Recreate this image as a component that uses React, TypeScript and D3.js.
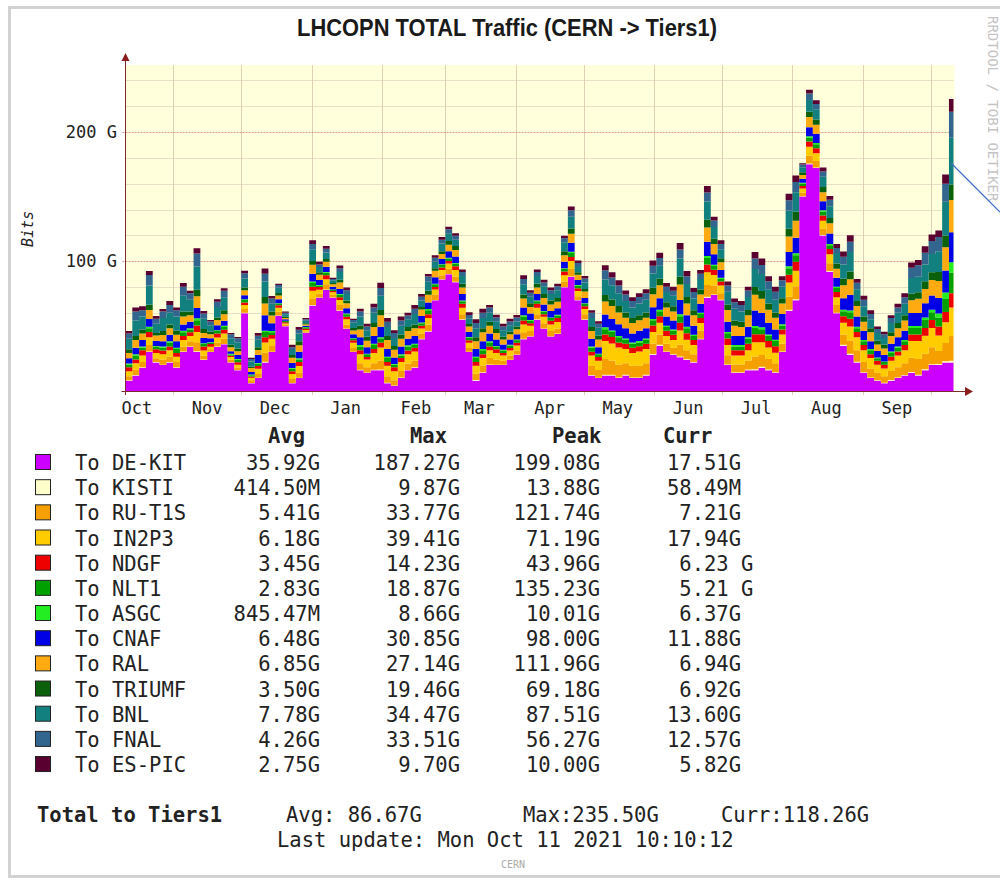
import React, { useEffect, useRef } from 'react';
import * as d3 from 'd3';

// series, bottom to top (rrdtool AREA + STACK order)
const seriesNames = ['DE-KIT', 'KISTI', 'RU-T1S', 'IN2P3', 'NDGF', 'NLT1', 'ASGC', 'CNAF', 'RAL', 'TRIUMF', 'BNL', 'FNAL', 'ES-PIC'];
const seriesColors = ['#cc00ff', '#ffffcc', '#f5a000', '#ffcc00', '#ee0000', '#00a000', '#22ee22', '#0000e6', '#ffaa11', '#0b600b', '#138080', '#33668f', '#5a0030'];

// values in Gbit/s, one every 3 days from 11 Oct 2020
const deKit = [
  8, 12, 18, 30, 22, 20, 22, 18, 30, 34,
  30, 24, 30, 34, 36, 22, 16, 60, 6, 10,
  22, 30, 58, 50, 6, 10, 45, 66, 72, 78,
  72, 62, 48, 30, 16, 14, 16, 16, 6, 4,
  10, 16, 18, 40, 46, 70, 86, 90, 84, 55,
  30, 8, 14, 20, 20, 20, 24, 28, 40, 42,
  55, 48, 42, 44, 80, 88, 70, 55, 12, 10,
  12, 12, 10, 12, 10, 10, 12, 28, 35, 30,
  28, 26, 24, 22, 40, 72, 74, 70, 20, 14,
  14, 16, 16, 18, 16, 14, 30, 62, 70, 150,
  175, 172, 120, 92, 60, 35, 28, 22, 14, 10,
  8, 6, 8, 10, 12, 14, 12, 16, 20, 20,
  22, 22,
];
const kisti = [
  .3, .4, .4, .5, .3, .3, .4, .4, .4, .4,
  .6, .3, .2, .3, .3, .2, .2, .3, .2, .2,
  .5, .3, .2, .1, .2, .3, .1, .4, .2, .3,
  .1, .3, .3, .2, .4, .3, .4, .5, .4, .3,
  .4, .3, .4, .3, .3, .3, .3, .3, .3, .3,
  .2, .4, .4, .4, .3, .3, .2, .2, .4, .3,
  .3, .3, .3, .3, .3, .4, .2, .3, .3, .3,
  .6, .6, .5, .5, .4, .5, .5, .6, .6, .4,
  .4, .7, .5, .4, .4, .7, .5, .4, .5, .4,
  .4, .5, .7, .7, .6, .5, .5, .7, .8, .2,
  .5, .4, .4, .5, .4, .6, .7, .5, .4, .4,
  .3, .3, .4, .4, .4, .6, .6, .7, .7, .8,
  1, 1.4,
];
const ruT1s = [
  3, 4, 4, 5, 3, 4, 4, 4, 4, 4,
  7, 3, 2, 3, 4, 2, 2, 3, 2, 3,
  7, 5, 3, 1, 3, 4, 1, 5, 3, 4,
  2, 4, 3, 3, 5, 4, 5, 7, 5, 4,
  5, 5, 5, 4, 5, 4, 3, 4, 4, 4,
  3, 5, 5, 5, 4, 3, 3, 3, 5, 4,
  4, 4, 4, 4, 4, 6, 3, 4, 7, 6,
  12, 11, 10, 9, 9, 9, 9, 8, 8, 6,
  5, 9, 7, 6, 6, 9, 7, 5, 7, 6,
  6, 7, 10, 9, 8, 7, 6, 10, 10, 3,
  6, 5, 5, 6, 6, 8, 10, 9, 8, 7,
  6, 5, 7, 8, 9, 11, 12, 12, 13, 10,
  14, 19,
];
const in2p3 = [
  4, 5, 5, 6, 4, 4, 5, 4, 5, 4,
  8, 4, 2, 4, 4, 2, 2, 3, 2, 4,
  8, 5, 3, 1, 4, 5, 1, 6, 3, 4,
  2, 4, 4, 4, 7, 6, 8, 10, 8, 7,
  7, 7, 7, 4, 5, 4, 4, 4, 5, 5,
  4, 6, 6, 6, 5, 4, 4, 4, 6, 4,
  5, 5, 5, 5, 5, 6, 4, 4, 8, 7,
  14, 13, 13, 11, 10, 11, 11, 9, 9, 6,
  6, 11, 8, 7, 6, 10, 8, 6, 8, 7,
  7, 8, 11, 10, 9, 8, 7, 11, 12, 3,
  7, 6, 6, 7, 6, 9, 11, 10, 9, 8,
  6, 6, 8, 9, 10, 13, 14, 14, 15, 12,
  16, 22,
];
const ndgf = [
  3, 3, 4, 4, 3, 3, 3, 3, 3, 3,
  5, 3, 2, 3, 3, 1, 2, 2, 1, 2,
  4, 3, 2, 1, 2, 3, 1, 3, 2, 3,
  1, 2, 2, 2, 3, 2, 3, 4, 3, 3,
  3, 3, 3, 2, 3, 2, 2, 2, 3, 3,
  2, 3, 3, 3, 3, 2, 2, 2, 3, 2,
  3, 2, 3, 3, 3, 3, 2, 2, 3, 3,
  5, 5, 4, 4, 4, 4, 4, 5, 5, 4,
  4, 6, 5, 4, 4, 6, 4, 3, 5, 4,
  4, 5, 6, 6, 5, 5, 4, 6, 7, 2,
  4, 4, 4, 4, 4, 5, 6, 4, 4, 3,
  3, 3, 3, 3, 4, 5, 5, 6, 6, 7,
  8, 11,
];
const nlt1 = [
  2, 3, 2, 3, 2, 2, 3, 3, 3, 2,
  4, 2, 1, 2, 2, 1, 2, 2, 1, 2,
  4, 2, 1, 1, 2, 2, 1, 3, 1, 2,
  1, 2, 2, 1, 3, 2, 3, 3, 3, 2,
  2, 3, 2, 2, 3, 2, 2, 2, 2, 2,
  2, 3, 3, 3, 2, 2, 2, 2, 3, 2,
  2, 2, 2, 2, 2, 3, 2, 2, 3, 2,
  4, 4, 4, 3, 3, 3, 3, 4, 4, 3,
  3, 5, 4, 3, 3, 5, 3, 2, 4, 3,
  3, 4, 5, 4, 4, 4, 3, 5, 5, 2,
  3, 3, 3, 3, 3, 4, 5, 3, 3, 3,
  2, 2, 3, 3, 3, 5, 5, 6, 6, 7,
  10, 16,
];
const asgc = [
  1, 1, 1, 1, .5, 1, 1, 1, 1, 1,
  1.5, .5, .5, .5, 1, .5, .5, .5, .5, .5,
  1, 1, .5, .2, .5, 1, .2, 1, .5, .5,
  .3, .5, .5, .5, 1, .5, 1, 1, 1, .5,
  1, 1, 1, .5, 1, .5, .5, .5, .5, .5,
  .5, 1, 1, 1, .5, .5, .5, .5, 1, .5,
  .5, .5, .5, .5, .5, 1, .5, .5, 1, .5,
  1.5, 1, 1, 1, 1, 1, 1, 1, 1, 1,
  1, 1.5, 1, 1, 1, 1.5, 1, 1, 1, 1,
  1, 1, 1.5, 1.5, 1, 1, 1, 1.5, 1.5, .5,
  1, 1, 1, 1, 1, 1, 1.5, 1, 1, 1,
  .5, .5, 1, 1, 1, 1.5, 1.5, 2, 2, 3,
  5, 8,
];
const cnaf = [
  4, 5, 5, 6, 4, 4, 5, 5, 5, 5,
  8, 4, 3, 4, 4, 2, 3, 3, 2, 6,
  12, 6, 3, 1, 4, 5, 1, 6, 4, 4,
  2, 4, 4, 3, 6, 5, 6, 8, 6, 5,
  6, 5, 6, 5, 5, 5, 4, 5, 5, 5,
  4, 6, 6, 6, 5, 4, 4, 4, 6, 5,
  5, 5, 5, 5, 5, 7, 4, 4, 6, 5,
  10, 9, 9, 8, 7, 8, 8, 9, 9, 7,
  7, 11, 9, 7, 7, 11, 8, 6, 8, 7,
  7, 8, 12, 11, 9, 8, 8, 11, 12, 3,
  7, 7, 7, 8, 7, 9, 12, 8, 7, 6,
  5, 5, 6, 7, 7, 10, 10, 11, 11, 12,
  17, 23,
];
const ral = [
  4, 6, 5, 7, 4, 5, 5, 5, 6, 5,
  9, 4, 3, 4, 5, 3, 3, 4, 3, 4,
  9, 6, 3, 1, 4, 5, 1, 7, 4, 4,
  2, 5, 4, 3, 6, 5, 7, 9, 7, 6,
  6, 6, 6, 5, 6, 5, 4, 5, 5, 5,
  4, 6, 7, 6, 5, 4, 4, 4, 7, 5,
  5, 5, 5, 5, 5, 7, 4, 5, 6, 6,
  10, 10, 9, 8, 8, 8, 8, 10, 10, 7,
  7, 12, 9, 8, 7, 11, 8, 6, 9, 8,
  7, 9, 12, 11, 10, 9, 8, 12, 13, 3,
  8, 7, 7, 8, 7, 10, 12, 8, 7, 7,
  5, 5, 6, 7, 8, 10, 11, 11, 12, 13,
  18, 25,
];
const triumf = [
  3, 3, 3, 4, 2, 3, 3, 3, 4, 3,
  5, 3, 2, 2, 3, 2, 2, 2, 1, 2,
  5, 3, 2, 1, 2, 3, 1, 3, 2, 2,
  1, 2, 2, 2, 3, 3, 3, 4, 3, 3,
  3, 3, 3, 2, 3, 2, 2, 3, 3, 3,
  2, 3, 3, 3, 3, 2, 2, 2, 3, 3,
  3, 3, 3, 3, 3, 4, 2, 2, 3, 3,
  5, 5, 5, 4, 4, 4, 4, 5, 5, 4,
  4, 6, 5, 4, 4, 6, 4, 3, 4, 4,
  4, 4, 6, 6, 5, 4, 4, 6, 7, 2,
  4, 4, 4, 4, 4, 5, 6, 4, 4, 3,
  3, 3, 3, 4, 4, 5, 5, 6, 6, 7,
  9, 12,
];
const bnl = [
  8, 12, 10, 15, 7, 10, 9, 11, 12, 9,
  18, 8, 5, 8, 10, 5, 5, 7, 4, 6,
  12, 6, 4, 2, 4, 6, 2, 9, 4, 5,
  2, 6, 5, 4, 7, 5, 8, 11, 7, 6,
  7, 6, 8, 5, 7, 5, 6, 6, 5, 6,
  4, 7, 8, 7, 6, 5, 5, 4, 8, 5,
  6, 6, 5, 6, 7, 9, 4, 5, 7, 6,
  12, 11, 10, 9, 8, 9, 10, 11, 10, 8,
  8, 14, 10, 9, 8, 14, 9, 7, 10, 9,
  8, 10, 14, 13, 11, 10, 9, 14, 15, 4,
  9, 8, 8, 9, 8, 11, 15, 9, 8, 7,
  6, 5, 7, 8, 9, 12, 12, 13, 14, 16,
  26, 36,
];
const fnal = [
  4, 7, 5, 8, 4, 5, 6, 5, 7, 5,
  10, 4, 3, 4, 5, 3, 3, 4, 2, 3,
  6, 4, 2, 1, 2, 3, 1, 4, 2, 3,
  1, 3, 3, 2, 4, 3, 4, 6, 4, 4,
  4, 3, 4, 3, 4, 3, 3, 3, 3, 3,
  3, 4, 4, 4, 3, 3, 3, 3, 4, 3,
  3, 3, 3, 3, 3, 5, 3, 3, 4, 3,
  7, 6, 6, 5, 5, 5, 5, 6, 6, 4,
  4, 7, 6, 5, 4, 7, 5, 4, 5, 5,
  5, 5, 8, 7, 6, 6, 5, 8, 8, 2,
  5, 4, 4, 5, 4, 6, 8, 5, 5, 4,
  3, 3, 4, 4, 5, 8, 9, 9, 10, 11,
  14, 20,
];
const esPic = [
  2, 3, 3, 3, 2, 2, 3, 2, 3, 2,
  4, 2, 1, 2, 2, 1, 1, 2, 1, 2,
  4, 2, 1, 1, 2, 2, 1, 3, 2, 2,
  1, 2, 2, 1, 2, 2, 3, 4, 3, 2,
  3, 2, 3, 2, 2, 2, 2, 2, 2, 2,
  2, 3, 3, 2, 2, 2, 2, 2, 3, 2,
  2, 2, 2, 2, 2, 3, 2, 2, 2, 2,
  4, 4, 4, 3, 3, 3, 3, 4, 4, 3,
  3, 5, 4, 3, 3, 5, 3, 3, 3, 3,
  3, 3, 5, 5, 4, 4, 3, 5, 5, 1,
  3, 3, 3, 3, 3, 4, 5, 3, 3, 3,
  2, 2, 2, 3, 3, 4, 4, 5, 5, 5,
  7, 10,
];
const seriesValues = [deKit, kisti, ruT1s, in2p3, ndgf, nlt1, asgc, cnaf, ral, triumf, bnl, fnal, esPic];

// legend table
const avgVals = ['35.92G', '414.50M', '5.41G', '6.18G', '3.45G', '2.83G', '845.47M', '6.48G', '6.85G', '3.50G', '7.78G', '4.26G', '2.75G'];
const maxVals = ['187.27G', '9.87G', '33.77G', '39.41G', '14.23G', '18.87G', '8.66G', '30.85G', '27.14G', '19.46G', '34.47G', '33.51G', '9.70G'];
const peakVals = ['199.08G', '13.88G', '121.74G', '71.19G', '43.96G', '135.23G', '10.01G', '98.00G', '111.96G', '69.18G', '87.51G', '56.27G', '10.00G'];
const currVals = ['17.51G', '58.49M', ' 7.21G', '17.94G', ' 6.23 G', ' 5.21 G', ' 6.37G', '11.88G', ' 6.94G', ' 6.92G', '13.60G', '12.57G', ' 5.82G'];

const monthLabels = ['Oct', 'Nov', 'Dec', 'Jan', 'Feb', 'Mar', 'Apr', 'May', 'Jun', 'Jul', 'Aug', 'Sep'];
const yTickValues = [100, 200];

const MONO = '"DejaVu Sans Mono", monospace';

const App = () => {
  const svgRef = useRef<SVGSVGElement>(null);

  useEffect(() => {
    const svg = d3.select(svgRef.current);
    svg.selectAll('*').remove();

    const start = new Date(2020, 9, 11);
    const end = new Date(2021, 9, 11);
    const dates = deKit.map((_, i) => d3.timeDay.offset(start, 3 * i));

    const x = d3.scaleTime().domain([start, end]).range([125.5, 953.5]);
    const y = d3.scaleLinear().domain([0, 250]).range([391, 67]);

    // frame
    svg.append('rect').attr('x', 9.5).attr('y', 7.5).attr('width', 995).attr('height', 869)
      .attr('fill', '#fff').attr('stroke', '#d2d2d2').attr('stroke-width', 3);

    // title
    svg.append('text')
      .attr('x', 297).attr('y', 36)
      .attr('textLength', 420).attr('lengthAdjust', 'spacingAndGlyphs')
      .style('font-family', '"Liberation Sans", Arial, sans-serif')
      .style('font-weight', 'bold').style('font-size', '24px').style('fill', '#1a1a1a')
      .text('LHCOPN TOTAL Traffic (CERN -> Tiers1)');

    // plot background
    svg.append('rect')
      .attr('x', x(start)).attr('y', y(250) - 2)
      .attr('width', x(end) - x(start) + 1).attr('height', y(0) - y(250) + 2)
      .attr('fill', '#ffffdc');

    // grid
    const grid = svg.append('g');
    d3.range(20, 260, 20).filter(v => !yTickValues.includes(v)).forEach(v => {
      grid.append('line').attr('x1', x(start)).attr('x2', x(end))
        .attr('y1', Math.round(y(v)) + 0.5).attr('y2', Math.round(y(v)) + 0.5)
        .attr('stroke', '#e8dfc6');
    });
    const monthStarts = d3.timeMonth.range(new Date(2020, 10, 1), new Date(2021, 9, 2));
    monthStarts.forEach(m => {
      const mx = Math.round(x(m)) + 0.5;
      grid.append('line').attr('x1', mx).attr('x2', mx).attr('y1', y(250) - 2).attr('y2', y(0) + 4)
        .attr('stroke', '#ddd0b6');
    });
    yTickValues.forEach(v => {
      grid.append('line').attr('x1', x(start) - 3).attr('x2', x(end))
        .attr('y1', Math.round(y(v)) + 0.5).attr('y2', Math.round(y(v)) + 0.5)
        .attr('stroke', '#d89a90').attr('stroke-dasharray', '2,1');
    });

    // stacked areas
    const rows = dates.map((d, i) => {
      const row: any = { date: d };
      seriesNames.forEach((n, k) => { row[n] = seriesValues[k][i]; });
      return row;
    });
    const layers = d3.stack().keys(seriesNames)(rows);
    const area = d3.area<any>()
      .curve(d3.curveStepAfter)
      .x(d => x(d.data.date))
      .y0(d => y(d[0]))
      .y1(d => y(d[1]));

    svg.append('g').selectAll('path')
      .data(layers)
      .enter()
      .append('path')
      .attr('fill', (d, k) => seriesColors[k])
      .attr('d', layer => {
        const last = layer[layer.length - 1];
        const closing: any = [last[0], last[1]];
        closing.data = { date: end };
        return area([...layer, closing]);
      });

    // axes
    const axisColor = '#7d2b2b';
    svg.append('line').attr('x1', x(start)).attr('x2', x(start)).attr('y1', y(0) + 4).attr('y2', 60)
      .attr('stroke', axisColor);
    svg.append('path').attr('d', `M${x(start) - 4},61 L${x(start) + 4},61 L${x(start)},53 Z`).attr('fill', '#8b1c1c');
    svg.append('line').attr('x1', x(start) - 4).attr('x2', 966).attr('y1', y(0) + 0.5).attr('y2', y(0) + 0.5)
      .attr('stroke', axisColor);
    svg.append('path').attr('d', `M965,${y(0) - 4} L965,${y(0) + 5} L973,${y(0) + 0.5} Z`).attr('fill', '#8b1c1c');

    // tick labels
    const monthMids = d3.timeMonth.range(new Date(2020, 9, 1), new Date(2021, 9, 1)).map(m => d3.timeDay.offset(m, 15));
    svg.append('g').selectAll('text')
      .data(monthLabels)
      .enter()
      .append('text')
      .attr('x', (d, i) => x(monthMids[i]))
      .attr('y', 414)
      .attr('text-anchor', 'middle')
      .style('font-family', MONO).style('font-size', '17px').style('fill', '#222')
      .text(d => d);

    svg.append('g').selectAll('text')
      .data(yTickValues)
      .enter()
      .append('text')
      .attr('x', 117)
      .attr('y', d => y(d) + 6)
      .attr('text-anchor', 'end')
      .style('font-family', MONO).style('font-size', '17px').style('fill', '#222')
      .text(d => `${d} G`);

    svg.append('text')
      .attr('transform', `translate(33,${(y(0) + y(250)) / 2}) rotate(-90)`)
      .attr('text-anchor', 'middle')
      .style('font-family', MONO).style('font-size', '15px').style('font-style', 'oblique').style('fill', '#222')
      .text('Bits');

    // rrdtool watermark
    svg.append('text')
      .attr('transform', 'translate(988,16) rotate(90)')
      .style('font-family', MONO).style('font-size', '14px').style('fill', '#c4c4c4')
      .text('RRDTOOL / TOBI OETIKER');

    // annotation line
    svg.append('line').attr('x1', 951).attr('y1', 163).attr('x2', 1000).attr('y2', 212)
      .attr('stroke', '#3e6fc0').attr('stroke-width', 1.2);

    // legend table
    const fs = '20.5px';
    const header = svg.append('g').style('font-family', MONO).style('font-size', fs)
      .style('font-weight', 'bold').style('fill', '#222');
    [['Avg', 268], ['Max', 410], ['Peak', 552], ['Curr', 663]].forEach(([t, hx]) => {
      header.append('text').attr('x', hx as number).attr('y', 443).text(t as string);
    });

    const rowY = (k: number) => 470 + k * 25.17;
    const legend = svg.append('g').selectAll('g')
      .data(seriesNames)
      .enter()
      .append('g')
      .attr('transform', (d, k) => `translate(0,${rowY(k)})`)
      .style('font-family', MONO).style('font-size', fs).style('fill', '#222')
      .style('white-space', 'pre');

    legend.append('rect')
      .attr('x', 35.5).attr('y', -15.5).attr('width', 15).attr('height', 15)
      .attr('fill', (d, k) => seriesColors[k]).attr('stroke', '#222');
    legend.append('text').attr('x', 75).text(d => `To ${d}`);
    legend.append('text').attr('x', 320).attr('text-anchor', 'end').text((d, k) => avgVals[k]);
    legend.append('text').attr('x', 460).attr('text-anchor', 'end').text((d, k) => maxVals[k]);
    legend.append('text').attr('x', 600).attr('text-anchor', 'end').text((d, k) => peakVals[k]);
    legend.append('text').attr('x', 667).attr('xml:space', 'preserve').text((d, k) => currVals[k]);

    // totals
    const foot = svg.append('g').style('font-family', MONO).style('font-size', fs).style('fill', '#222');
    foot.append('text').attr('x', 37).attr('y', 822).style('font-weight', 'bold').text('Total to Tiers1');
    foot.append('text').attr('x', 286).attr('y', 822).text('Avg: 86.67G');
    foot.append('text').attr('x', 523).attr('y', 822).text('Max:235.50G');
    foot.append('text').attr('x', 721).attr('y', 822).text('Curr:118.26G');
    foot.append('text').attr('x', 277).attr('y', 847).text('Last update: Mon Oct 11 2021 10:10:12');
    svg.append('text').attr('x', 513).attr('y', 868).attr('text-anchor', 'middle')
      .style('font-family', MONO).style('font-size', '10px').style('fill', '#aaa')
      .text('CERN');
  }, []);

  return (
    <svg ref={svgRef} width={1000} height={880}
      style={{ position: 'absolute', left: 0, top: 0, background: '#fff' }} />
  );
};

export default App;
